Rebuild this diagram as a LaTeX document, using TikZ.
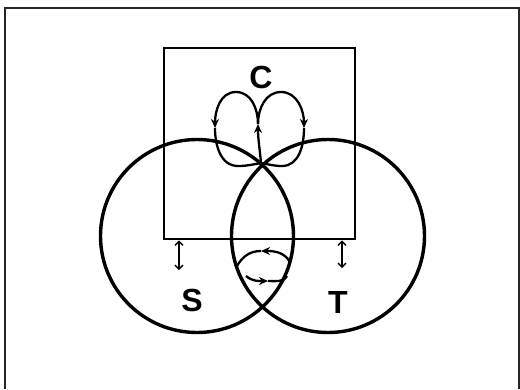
\documentclass[tikz,border=0pt]{standalone}
\usepackage{fontspec}
\setsansfont{Liberation Sans}
\usetikzlibrary{arrows.meta,positioning}
\tikzset{
  ring/.style={draw,circle,line width=3.4pt,minimum size=193pt,inner sep=0pt},
  cbox/.style={draw,line width=2.8pt,minimum width=191pt,minimum height=191pt,inner sep=0pt},
  setlabel/.style={font=\sffamily\bfseries\fontsize{32}{36}\selectfont,inner sep=0pt},
  flowloop/.style={line width=2.3pt},
  flowtip/.style={flowloop,-{Stealth[length=9pt,width=8pt]}},
  gap/.style={{Straight Barb[length=4pt,width=8pt]}-{Straight Barb[length=4pt,width=8pt]},line width=1.4pt},
  frame/.style={line width=2.6pt,draw=black!85}
}
\begin{document}
\begin{tikzpicture}[x=1pt,y=1pt]
  \useasboundingbox (0,0) rectangle (520,-389);
  \draw[frame] (5,-389) -- (5,-8) -- (519,-8) -- (519,-389);

  \node[cbox] (C) at (259.5,-143.5) {};
  \node[ring] (S) at (197,-236) {};
  \node[ring] (T) at (328,-236) {};

  \node[setlabel] (cl) at (261,-77.5) {C};
  \node[setlabel] (sl) at (192,-300.5) {S};
  \node[setlabel] (tl) at (338,-302) {T};

  % loops inside C
  \coordinate (tip) at (261,-163);
  \coordinate (mid) at (258,-124);
  \draw[flowtip] (tip) to[out=95,in=270] (mid);
  \draw[flowloop] (mid) to[out=90,in=0] (236,-92);
  \draw[flowtip] (236,-92) to[out=180,in=90] (215,-128);
  \draw[flowloop] (215,-128) to[out=270,in=180] (238,-166) to[out=0,in=190] (tip);
  \draw[flowloop] (mid) to[out=90,in=180] (281,-92);
  \draw[flowtip] (281,-92) to[out=0,in=90] (304,-128);
  \draw[flowloop] (304,-128) to[out=270,in=0] (282,-166) to[out=180,in=-10] (tip);

  % loop in the lens
  \coordinate (lt) at (261,-251);
  \coordinate (lb) at (268,-281);
  \draw[flowtip] (290,-262) to[out=120,in=0] (lt);
  \draw[flowloop] (lt) to[out=180,in=60] (237,-266);
  \draw[flowtip] (246,-276) to[out=-40,in=180] (lb);
  \draw[flowloop] (lb) to[out=0,in=-120] (287,-276);

  % gaps under C
  \coordinate (sg) at (179,-270);
  \coordinate (tg) at (342,-268);
  \draw[gap] (C.south -| sg) -- (sg);
  \draw[gap] (C.south -| tg) -- (tg);
\end{tikzpicture}
\end{document}
